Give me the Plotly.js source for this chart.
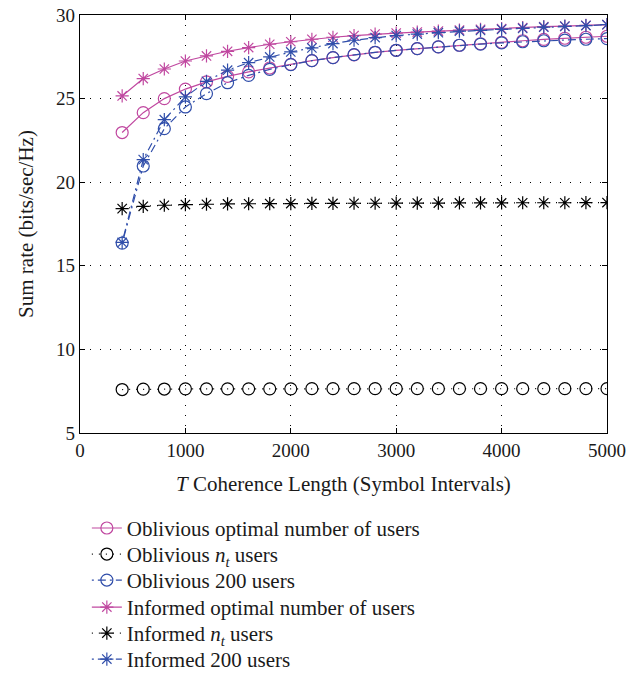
<!DOCTYPE html>
<html>
<head>
<meta charset="utf-8">
<script src="https://cdn.plot.ly/plotly-3.0.1.min.js"></script>
<style>html,body{margin:0;padding:0;background:#fff;}#chart{width:638px;height:673px;}</style>
</head>
<body>
<div id="chart"></div>
<script>
const T = [400,600,800,1000,1200,1400,1600,1800,2000,2200,2400,2600,2800,3000,3200,3400,3600,3800,4000,4200,4400,4600,4800,5000];

const obliviousOptimal = [22.97,24.16,25.0,25.57,26.0,26.33,26.6,26.83,27.05,27.27,27.45,27.62,27.77,27.89,27.99,28.09,28.19,28.28,28.37,28.46,28.54,28.61,28.67,28.73];
const obliviousNt = [7.6,7.62,7.63,7.64,7.64,7.64,7.64,7.64,7.64,7.65,7.65,7.65,7.65,7.65,7.65,7.65,7.65,7.65,7.65,7.65,7.65,7.65,7.65,7.65];
const oblivious200 = [16.36,20.97,23.2,24.5,25.3,25.95,26.39,26.75,27.03,27.27,27.45,27.63,27.77,27.89,27.99,28.09,28.19,28.26,28.33,28.4,28.46,28.5,28.55,28.59];
const informedOptimal = [25.16,26.2,26.77,27.25,27.55,27.83,28.05,28.25,28.4,28.55,28.67,28.77,28.86,28.92,28.98,29.04,29.1,29.14,29.18,29.24,29.3,29.34,29.38,29.42];
const informedNt = [18.42,18.56,18.62,18.66,18.68,18.7,18.71,18.72,18.72,18.73,18.73,18.74,18.74,18.75,18.75,18.75,18.76,18.76,18.76,18.77,18.77,18.77,18.78,18.78];
const informed200 = [16.4,21.35,23.74,25.1,26.03,26.7,27.15,27.49,27.79,28.03,28.29,28.49,28.65,28.77,28.86,28.94,29.03,29.08,29.14,29.2,29.27,29.32,29.37,29.42];

const names = [
  'Oblivious optimal number of users',
  'Oblivious <i>n<sub>t</sub></i> users',
  'Oblivious 200 users',
  'Informed optimal number of users',
  'Informed <i>n<sub>t</sub></i> users',
  'Informed 200 users'
];

const PINK = 'rgb(192,72,160)';
const BLUE = 'rgb(48,78,170)';
const BLACK = '#000';
const legendIds = ['legend','legend2','legend3','legend4','legend5','legend6'];

function tr(i, y, color, dash, symbol){
  return {
    x: T, y: y, name: names[i], type: 'scatter', mode: 'lines+markers',
    legend: legendIds[i],
    line: {color: color, width: 1.2, dash: dash},
    marker: {symbol: symbol, size: symbol === 'circle-open' ? 12 : 11, color: color,
             line: {color: color, width: 1.2}}
  };
}

const data = [
  tr(0, obliviousOptimal, PINK, 'solid', 'circle-open'),
  tr(1, obliviousNt, BLACK, '1px,6px', 'circle-open'),
  tr(2, oblivious200, BLUE, '2px,4px,8px,4px', 'circle-open'),
  tr(3, informedOptimal, PINK, 'solid', 'asterisk-open'),
  tr(4, informedNt, BLACK, '1px,6px', 'asterisk-open'),
  tr(5, informed200, BLUE, '2px,4px,8px,4px', 'asterisk-open')
];

const fontFam = '"Liberation Serif", "DejaVu Serif", serif';
const TXT = '#1a1a1a';

const plotTop = 15, plotBottom = 432.7;
const legendCenters = [528, 554, 580, 607, 633, 659];

const layout = {
  width: 638, height: 673,
  margin: {l: 80, r: 31, t: 15, b: 240.3, autoexpand: false},
  paper_bgcolor: '#fff', plot_bgcolor: '#fff',
  font: {family: fontFam, size: 19, color: TXT},
  showlegend: true,
  xaxis: {
    range: [0, 5000], tickvals: [0,1000,2000,3000,4000,5000],
    ticks: 'inside', ticklen: 5, tickcolor: '#000',
    tickfont: {family: fontFam, size: 19, color: TXT},
    showline: true, linecolor: '#000', linewidth: 1.2, mirror: 'ticks',
    showgrid: true, gridcolor: '#000', gridwidth: 1, griddash: '1px,9px',
    zeroline: false,
    title: {text: '<i>T</i> Coherence Length (Symbol Intervals)', standoff: 16,
            font: {family: fontFam, size: 21, color: TXT}}
  },
  yaxis: {
    range: [5, 30], tickvals: [5,10,15,20,25,30],
    ticks: 'inside', ticklen: 5, tickcolor: '#000',
    tickfont: {family: fontFam, size: 19, color: TXT},
    showline: true, linecolor: '#000', linewidth: 1.2, mirror: 'ticks',
    showgrid: true, gridcolor: '#000', gridwidth: 1, griddash: '1px,9px',
    zeroline: false,
    title: {text: 'Sum rate (bits/sec/Hz)', standoff: 16,
            font: {family: fontFam, size: 21, color: TXT}}
  }
};

legendIds.forEach((id, i) => {
  layout[id] = {
    x: 0.013, xanchor: 'left',
    y: (plotBottom - legendCenters[i]) / (plotBottom - plotTop), yanchor: 'middle',
    font: {family: fontFam, size: 21, color: TXT},
    bgcolor: 'rgba(0,0,0,0)', borderwidth: 0
  };
});

Plotly.newPlot('chart', data, layout, {displayModeBar: false, staticPlot: true});
</script>
</body>
</html>
